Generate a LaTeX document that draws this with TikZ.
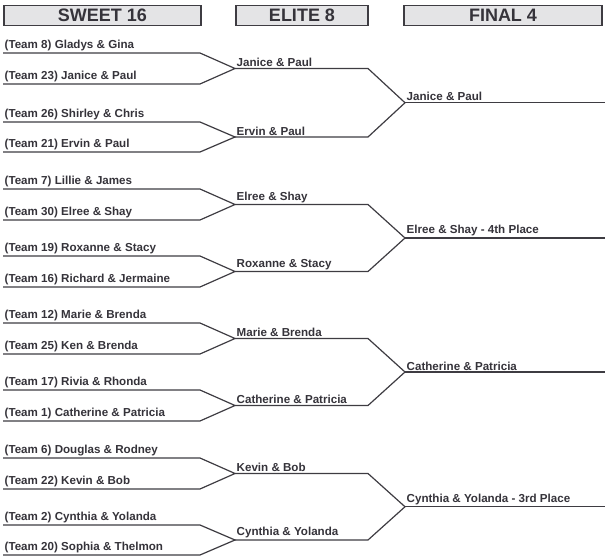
\documentclass[tikz,border=0pt]{standalone}
\usepackage{fontspec}
\setmainfont{Liberation Sans}
\usepackage{xcolor}
\definecolor{bink}{HTML}{35333A}
\definecolor{bline}{HTML}{3E3C42}
\definecolor{bhead}{HTML}{E4E4E6}
\usetikzlibrary{calc}

\begin{document}
\begin{tikzpicture}[x=1pt,y=-1pt,
  hd/.style={draw=bline,line width=1.8pt,fill=bhead,minimum height=20pt,inner sep=0pt,text=bink,font=\bfseries\fontsize{18}{18}\selectfont},
  tm/.style={anchor=south west,inner sep=1.5pt,text=bink,font=\bfseries\fontsize{11.6}{12}\selectfont},
  br/.style={draw=bline,line width=1.2pt,line join=miter}]
\useasboundingbox (0,0) rectangle (605,559);
% headings
\node[hd,minimum width=197pt] (h16) at (102.5,15.5) {SWEET 16};
\node[hd,minimum width=132pt] (h8) at (302,15.5) {ELITE 8};
\node[hd,minimum width=198pt] (h4) at (503,15.5) {FINAL 4};
% columns where the lines turn
\coordinate (c16) at (200,0);
\coordinate (c8) at (368,0);
\coordinate (cR) at (605,0);
% sweet 16
\node[tm] (t1) at (3,53) {(Team 8) Gladys \& Gina};
\node[tm] (t2) at (3,84) {(Team 23) Janice \& Paul};
\node[tm] (t3) at (3,122) {(Team 26) Shirley \& Chris};
\node[tm] (t4) at (3,152) {(Team 21) Ervin \& Paul};
\node[tm] (t5) at (3,189) {(Team 7) Lillie \& James};
\node[tm] (t6) at (3,220) {(Team 30) Elree \& Shay};
\node[tm] (t7) at (3,256) {(Team 19) Roxanne \& Stacy};
\node[tm] (t8) at (3,287) {(Team 16) Richard \& Jermaine};
\node[tm] (t9) at (3,323) {(Team 12) Marie \& Brenda};
\node[tm] (t10) at (3,354) {(Team 25) Ken \& Brenda};
\node[tm] (t11) at (3,390) {(Team 17) Rivia \& Rhonda};
\node[tm] (t12) at (3,421) {(Team 1) Catherine \& Patricia};
\node[tm] (t13) at (3,458) {(Team 6) Douglas \& Rodney};
\node[tm] (t14) at (3,489) {(Team 22) Kevin \& Bob};
\node[tm] (t15) at (3,525) {(Team 2) Cynthia \& Yolanda};
\node[tm] (t16) at (3,555) {(Team 20) Sophia \& Thelmon};
% elite 8
\node[tm] (e1) at (235,68.5) {Janice \& Paul};
\node[tm] (e2) at (235,137) {Ervin \& Paul};
\node[tm] (e3) at (235,204.5) {Elree \& Shay};
\node[tm] (e4) at (235,271.5) {Roxanne \& Stacy};
\node[tm] (e5) at (235,338.5) {Marie \& Brenda};
\node[tm] (e6) at (235,405.5) {Catherine \& Patricia};
\node[tm] (e7) at (235,473.5) {Kevin \& Bob};
\node[tm] (e8) at (235,540) {Cynthia \& Yolanda};
% final 4
\node[tm] (f1) at (405,102.75) {Janice \& Paul};
\node[tm] (f2) at (405,238) {Elree \& Shay - 4th Place};
\node[tm] (f3) at (405,372) {Catherine \& Patricia};
\node[tm] (f4) at (405,506.75) {Cynthia \& Yolanda - 3rd Place};
% brackets
\draw[br] (t1.south west) -- (t1.south west -| c16) -- (e1.south west) -- (t2.south west -| c16) -- (t2.south west);
\draw[br] (t3.south west) -- (t3.south west -| c16) -- (e2.south west) -- (t4.south west -| c16) -- (t4.south west);
\draw[br] (t5.south west) -- (t5.south west -| c16) -- (e3.south west) -- (t6.south west -| c16) -- (t6.south west);
\draw[br] (t7.south west) -- (t7.south west -| c16) -- (e4.south west) -- (t8.south west -| c16) -- (t8.south west);
\draw[br] (t9.south west) -- (t9.south west -| c16) -- (e5.south west) -- (t10.south west -| c16) -- (t10.south west);
\draw[br] (t11.south west) -- (t11.south west -| c16) -- (e6.south west) -- (t12.south west -| c16) -- (t12.south west);
\draw[br] (t13.south west) -- (t13.south west -| c16) -- (e7.south west) -- (t14.south west -| c16) -- (t14.south west);
\draw[br] (t15.south west) -- (t15.south west -| c16) -- (e8.south west) -- (t16.south west -| c16) -- (t16.south west);
\draw[br] (e1.south west) -- (e1.south west -| c8) -- (f1.south west) -- (e2.south west -| c8) -- (e2.south west);
\draw[br] (e3.south west) -- (e3.south west -| c8) -- (f2.south west) -- (e4.south west -| c8) -- (e4.south west);
\draw[br] (e5.south west) -- (e5.south west -| c8) -- (f3.south west) -- (e6.south west -| c8) -- (e6.south west);
\draw[br] (e7.south west) -- (e7.south west -| c8) -- (f4.south west) -- (e8.south west -| c8) -- (e8.south west);
\draw[br] (f1.south west) -- (f1.south west -| cR);
\draw[br] (f2.south west) -- (f2.south west -| cR);
\draw[br] (f3.south west) -- (f3.south west -| cR);
\draw[br] (f4.south west) -- (f4.south west -| cR);
\end{tikzpicture}
\end{document}
